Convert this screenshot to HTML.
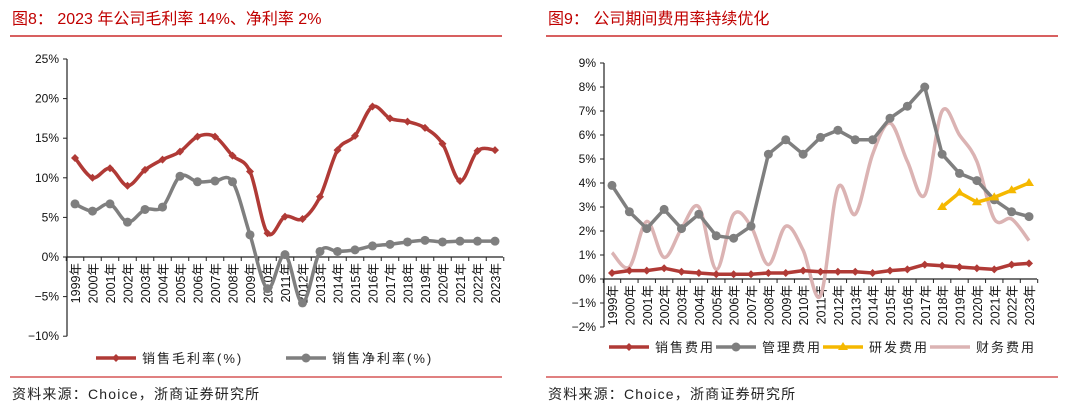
<!DOCTYPE html>
<html><head><meta charset="utf-8">
<style>
body{margin:0;background:#fff;width:1065px;height:413px;overflow:hidden;font-family:"Liberation Sans","Noto Sans CJK SC",sans-serif;}
svg text{font-family:"Liberation Sans","Noto Sans CJK SC",sans-serif;}
</style></head>
<body>
<svg id="svg" width="1065" height="413" xmlns="http://www.w3.org/2000/svg">
<text x="12" y="24" font-size="16" fill="#c00000">图8： 2023 年公司毛利率 14%、净利率 2%</text>
<line x1="10" y1="36" x2="502" y2="36" stroke="#c00000" stroke-width="1.3"/>
<line x1="10" y1="377" x2="502" y2="377" stroke="#c00000" stroke-width="1"/>
<text x="12" y="399" font-size="14" fill="#222" letter-spacing="1.2">资料来源：Choice，浙商证券研究所</text>
<text x="548" y="24" font-size="16" fill="#c00000">图9： 公司期间费用率持续优化</text>
<line x1="546" y1="36" x2="1058" y2="36" stroke="#c00000" stroke-width="1.3"/>
<line x1="546" y1="377" x2="1058" y2="377" stroke="#c00000" stroke-width="1"/>
<text x="548" y="399" font-size="14" fill="#222" letter-spacing="1.2">资料来源：Choice，浙商证券研究所</text>
<g id="left"></g>
<g id="right"></g>
</svg>
<script>
const years = ["1999","2000","2001","2002","2003","2004","2005","2006","2007","2008","2009","2010","2011","2012","2013","2014","2015","2016","2017","2018","2019","2020","2021","2022","2023"];
const grossMargin = [12.5,10,11.2,9,11,12.3,13.3,15.2,15.2,12.8,10.8,3,5.1,4.8,7.6,13.5,15.3,19,17.5,17.1,16.3,14.3,9.6,13.4,13.5];
const netMargin = [6.7,5.8,6.7,4.4,6,6.3,10.2,9.5,9.6,9.5,2.8,-4,0.3,-5.8,0.7,0.7,0.9,1.4,1.6,1.9,2.1,1.9,2,2,2];
const leftTicks = [25,20,15,10,5,0,-5,-10];
const salesExp = [0.25,0.35,0.35,0.45,0.3,0.25,0.2,0.2,0.2,0.25,0.25,0.35,0.3,0.3,0.3,0.25,0.35,0.4,0.6,0.55,0.5,0.45,0.4,0.6,0.65];
const adminExp = [3.9,2.8,2.1,2.9,2.1,2.7,1.8,1.7,2.2,5.2,5.8,5.2,5.9,6.2,5.8,5.8,6.7,7.2,8,5.2,4.4,4.1,3.3,2.8,2.6];
const rdExp = [null,null,null,null,null,null,null,null,null,null,null,null,null,null,null,null,null,null,null,3.0,3.6,3.2,3.4,3.7,4.0];
const finExp = [1.1,0.5,2.4,0.9,2.1,3.0,0.4,2.7,2.2,0.6,2.2,1.2,-0.7,3.8,2.7,5.2,6.5,4.9,3.5,7.0,6.0,4.9,2.5,2.5,1.6];
const rightTicks = [9,8,7,6,5,4,3,2,1,0,-1,-2];

const NS="http://www.w3.org/2000/svg";
function mk(parent,tag,attrs){const e=document.createElementNS(NS,tag);for(const k in attrs)e.setAttribute(k,attrs[k]);parent.appendChild(e);return e;}
function smoothPath(pts){let d="M"+pts[0][0]+","+pts[0][1];for(let i=0;i<pts.length-1;i++){const p0=pts[i-1]||pts[i],p1=pts[i],p2=pts[i+1],p3=pts[i+2]||p2;const t=6;d+=" C"+(p1[0]+(p2[0]-p0[0])/t)+","+(p1[1]+(p2[1]-p0[1])/t)+" "+(p2[0]-(p3[0]-p1[0])/t)+","+(p2[1]-(p3[1]-p1[1])/t)+" "+p2[0]+","+p2[1];}return d;}
function linePath(pts){return "M"+pts.map(p=>p[0]+","+p[1]).join(" L");}

function chart(g,cfg){
  const x=i=>cfg.x0+i*(cfg.x1-cfg.x0)/(years.length-1);
  const y=v=>cfg.yZero-v*cfg.pxPer;
  const ax=mk(g,"line",{x1:cfg.axX,y1:y(cfg.ticks[0]),x2:cfg.axX,y2:y(cfg.ticks[cfg.ticks.length-1]),stroke:"#222","stroke-width":1.2});
  
  
  cfg.ticks.forEach(t=>{
    const tk=mk(g,"line",{x1:cfg.axX-4,y1:y(t),x2:cfg.axX,y2:y(t),stroke:"#222"});
    
    
    const tl=mk(g,"text",{x:cfg.axX-8,y:y(t)+4,"font-size":12,"text-anchor":"end",fill:"#111"});
    tl.textContent=(t<0?"−":"")+Math.abs(t)+"%";
    
    
  });
  const xa=mk(g,"line",{x1:cfg.axX,y1:y(0),x2:cfg.axEnd,y2:y(0),stroke:"#222","stroke-width":1.2});
  
  
  const step=(cfg.x1-cfg.x0)/(years.length-1);
  for(let i=0;i<=years.length;i++){
    const tx=cfg.x0-step/2+i*step;
    const tk=mk(g,"line",{x1:tx,y1:y(0),x2:tx,y2:y(0)+4,stroke:"#222"});
    
    
  }
  years.forEach((yr,i)=>{
    const t=mk(g,"text",{x:0,y:0,"font-size":12.5,"text-anchor":"end",fill:"#111",transform:"translate("+(x(i)+5)+","+(y(0)+6)+") rotate(-90)"});
    t.textContent=yr+"年";
    
    
  });
  cfg.series.forEach(s=>{
    const ps=[];s.data.forEach((v,i)=>{if(v!==null)ps.push([x(i),y(v)]);});
    const p=mk(g,"path",{d:s.smooth?smoothPath(ps):linePath(ps),fill:"none",stroke:s.color,"stroke-width":s.w,"stroke-linejoin":"round"});
    
    
    if(s.marker) ps.forEach(pt=>{
      let m;
      if(s.marker==="circle") m=mk(g,"circle",{cx:pt[0],cy:pt[1],r:4.5,fill:s.color});
      else if(s.marker==="diamond") m=mk(g,"path",{d:`M${pt[0]},${pt[1]-4}L${pt[0]+4},${pt[1]}L${pt[0]},${pt[1]+4}L${pt[0]-4},${pt[1]}Z`,fill:s.color});
      else m=mk(g,"path",{d:`M${pt[0]},${pt[1]-5}L${pt[0]+5},${pt[1]+3}L${pt[0]-5},${pt[1]+3}Z`,fill:s.color});
      
      
    });
  });
  cfg.legend.forEach(l=>{
    const ll=mk(g,"line",{x1:l.x,y1:cfg.legY,x2:l.x+40,y2:cfg.legY,stroke:l.color,"stroke-width":l.w});
    
    
    let m;
    if(l.marker==="circle") m=mk(g,"circle",{cx:l.x+20,cy:cfg.legY,r:4.5,fill:l.color});
    else if(l.marker==="diamond") m=mk(g,"path",{d:`M${l.x+20},${cfg.legY-4}l4,4l-4,4l-4,-4Z`,fill:l.color});
    else if(l.marker==="tri") m=mk(g,"path",{d:`M${l.x+20},${cfg.legY-5}l5,8h-10Z`,fill:l.color});
    if(m){}
    const t=mk(g,"text",{x:l.x+46,y:cfg.legY+5,"font-size":13,fill:"#222","letter-spacing":"2"});
    t.textContent=l.label;
    
    
  });
}
chart(document.getElementById("left"),{x0:75,x1:495,axX:67,axEnd:503,yZero:257,pxPer:7.92,ticks:leftTicks,legY:358,
 series:[{name:"gross-margin",data:grossMargin,color:"#b03a36",w:3.5,smooth:true,marker:"diamond"},
         {name:"net-margin",data:netMargin,color:"#7f7f7f",w:3.5,smooth:true,marker:"circle"}],
 legend:[{x:96,color:"#b03a36",w:3.5,marker:"diamond",label:"销售毛利率(%)"},{x:286,color:"#7f7f7f",w:3.5,marker:"circle",label:"销售净利率(%)"}]});
chart(document.getElementById("right"),{x0:612,x1:1029,axX:604,axEnd:1037,yZero:279,pxPer:24,ticks:rightTicks,legY:347,
 series:[{name:"finance-expense",data:finExp,color:"#dbb3b3",w:3.5,smooth:true},
         {name:"admin-expense",data:adminExp,color:"#7f7f7f",w:3.5,marker:"circle"},
         {name:"rd-expense",data:rdExp,color:"#f5b800",w:3.5,marker:"tri"},
         {name:"sales-expense",data:salesExp,color:"#b03a36",w:3.5,marker:"diamond"}],
 legend:[{x:609,color:"#b03a36",w:3.5,marker:"diamond",label:"销售费用"},{x:716,color:"#7f7f7f",w:3.5,marker:"circle",label:"管理费用"},{x:823,color:"#f5b800",w:3.5,marker:"tri",label:"研发费用"},{x:930,color:"#dbb3b3",w:3.5,label:"财务费用"}]});
</script>
</body></html>
